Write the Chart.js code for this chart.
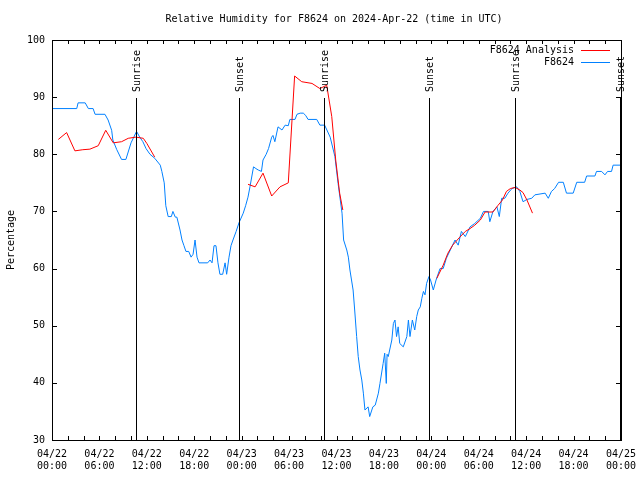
<!DOCTYPE html>
<html>
<head>
<meta charset="utf-8">
<script src="https://cdn.jsdelivr.net/npm/chart.js@4/dist/chart.umd.min.js"></script>
<style>html,body{margin:0;padding:0;background:#fff;}canvas{display:block;}</style>
</head>
<body>
<canvas id="c" width="640" height="480"></canvas>
<script>
// ---- data (x in hours since 2024-04-22 00:00 UTC) ----
const blueHours = [0,3.13,3.3,4.2,4.6,5.2,5.45,6.7,7.1,7.55,7.7,8.2,8.8,9.35,10.0,10.7,11.1,11.5,11.9,12.4,13.0,13.7,13.9,14.2,14.4,14.7,15.1,15.3,15.6,15.8,16.2,16.45,16.7,16.95,17.3,17.6,17.85,18.1,18.35,18.6,19.7,20.0,20.25,20.5,20.75,21.0,21.25,21.6,21.9,22.1,22.4,22.65,22.9,23.3,23.66,24.2,24.5,24.8,25.05,25.5,25.8,26.1,26.5,26.7,27.1,27.4,27.8,27.96,28.2,28.6,29.1,29.5,29.9,30.1,30.75,31.0,31.4,31.8,32.1,32.4,33.5,33.9,34.5,35.2,35.8,36.2,36.7,36.9,37.3,37.5,37.7,38.1,38.3,38.55,38.75,38.97,39.2,39.4,39.6,40.0,40.2,40.6,40.9,41.3,41.5,41.9,42.1,42.3,42.4,42.55,43.0,43.2,43.4,43.6,43.8,44.0,44.45,44.9,45.1,45.3,45.6,45.9,46.15,46.35,46.6,46.8,47.0,47.2,47.4,47.7,47.9,48.25,48.6,49.1,49.5,49.9,50.4,51.0,51.4,51.8,52.3,52.9,53.5,54.2,54.6,55.2,55.4,55.8,56.3,56.6,56.9,57.3,57.7,58.2,58.8,59.2,59.6,60.1,60.7,61.1,62.4,62.8,63.2,63.6,64.1,64.7,65.1,65.95,66.4,67.4,67.65,68.7,68.9,69.55,69.97,70.3,70.8,71.0,72.0];
const blueValues = [88,88,89,89,88,88,87,87,86,84.2,82.5,80.8,79.1,79.1,82,84,83,82.2,81,80,79.3,78.1,77,75,71,69.1,69.1,70,69,69,66.75,65,64,63,63,62,62.5,65,62,61,61,61.5,61,64,64,61,59,59,61,59,62,64,65,66.5,68,69.7,71,72.5,74.3,77.8,77.5,77.25,77,79,80,81,83,83.3,82.2,84.8,84.25,85.1,85,86.1,86.1,87,87.2,87.2,86.8,86.1,86.1,85.1,85.1,83,79.6,74.9,69.7,65,63.25,62,59.75,56.25,52.75,48.1,44.6,42.25,40.5,38.2,35.25,35.8,34.1,35.8,36.1,38.2,39.9,43.4,45.2,39.9,45,44.6,47.5,50.4,51,48.1,49.8,46.9,46.3,48.1,51,48.1,51,49.25,51.6,52.75,53.3,54.8,56,55.4,57.4,58.6,58,56.25,58,60,60,61.8,63.25,65,64.1,66.5,65.6,67.3,67.9,68.8,70,70,68.2,70,70.8,69.1,72.3,72.3,73.2,74,74.3,73.5,71.7,72.1,72.3,72.9,73.2,72.3,73.5,74,75.1,75.1,73.2,73.2,75.1,75.1,76.2,76.2,77,77,76.4,77,77,78.1,78.1];
const redHours = [0.8,1.85,2.9,3.9,4.8,5.85,6.8,7.75,8.8,9.65,10.6,11.55,12.0,13.0,18.0,24.8,25.7,26.7,27.8,28.85,29.9,30.7,31.6,32.9,33.9,34.76,35.4,35.9,36.4,36.8,42.0,48.7,49.5,50.1,50.7,51.6,52.3,52.9,53.5,54.2,54.8,55.8,56.4,57.0,57.5,58.0,58.6,59.2,59.6,60.1,60.8];
const redValues = [82.6,83.8,80.6,80.8,80.9,81.5,84.2,82.0,82.2,82.8,83.0,82.8,81.9,79.5,null,74.75,74.3,76.7,72.7,74.3,75.0,93.7,92.7,92.4,91.5,92.1,86.6,79,73.2,70.25,null,58.3,60.6,62.7,64.1,65.5,66.5,67,67.6,68.5,69.9,69.9,71,72,73.5,74,74.2,73.75,73.3,72,69.7];
const eventHours = [10.6,23.7,34.45,47.75,58.55,71.85];
const eventLabels = ['Sunrise','Sunset','Sunrise','Sunset','Sunrise','Sunset'];
const seriesNames = ['F8624 Analysis','F8624'];
const titleText = 'Relative Humidity for F8624 on 2024-Apr-22 (time in UTC)';
const yTitle = 'Percentage';

const FONT = "'DejaVu Sans Mono', 'Liberation Mono', monospace";
const RED = 'rgb(255,0,0)';
const BLUE = 'rgb(0,128,255)';

const toPts = (xs, ys) => xs.map((x, i) => ({x: x, y: ys[i]}));

const decor = {
  id: 'decor',
  afterDatasetsDraw(chart) {
    const ctx = chart.ctx, a = chart.chartArea, xs = chart.scales.x, ys = chart.scales.y;
    ctx.save();
    ctx.strokeStyle = '#000';
    ctx.lineWidth = 1;
    ctx.font = '10px ' + FONT;
    ctx.fillStyle = '#000';
    // title
    ctx.textAlign = 'center'; ctx.textBaseline = 'middle';
    ctx.fillText(titleText, 334, 19);
    // event lines + labels
    eventHours.forEach((h, i) => {
      const x = Math.round(xs.getPixelForValue(h)) + 0.5;
      ctx.beginPath(); ctx.moveTo(x, 98); ctx.lineTo(x, a.bottom); ctx.stroke();
      ctx.save();
      ctx.translate(x + 1, 92);
      ctx.rotate(-Math.PI / 2);
      ctx.textAlign = 'left'; ctx.textBaseline = 'middle';
      ctx.fillText(eventLabels[i], 0, 0);
      ctx.restore();
    });
    // border
    ctx.strokeRect(Math.round(a.left) + 0.5, Math.round(a.top) + 0.5, Math.round(a.right - a.left), Math.round(a.bottom - a.top));
    // x ticks every 2 h, top & bottom
    ctx.beginPath();
    for (let h = 2; h < 72; h += 2) {
      const x = Math.round(xs.getPixelForValue(h)) + 0.5;
      ctx.moveTo(x, a.bottom); ctx.lineTo(x, a.bottom - 4);
      ctx.moveTo(x, a.top); ctx.lineTo(x, a.top + 4);
    }
    for (let v = 40; v < 100; v += 10) {
      const y = Math.round(ys.getPixelForValue(v)) + 0.5;
      ctx.moveTo(a.left, y); ctx.lineTo(a.left + 5, y);
      ctx.moveTo(a.right, y); ctx.lineTo(a.right - 5, y);
    }
    ctx.stroke();
    // legend
    ctx.textAlign = 'right'; ctx.textBaseline = 'middle';
    const cols = [RED, BLUE];
    seriesNames.forEach((n, i) => {
      const y = 50 + i * 12;
      ctx.fillStyle = '#000';
      ctx.fillText(n, 574, y);
      ctx.strokeStyle = cols[i];
      ctx.beginPath(); ctx.moveTo(581, y + 0.5); ctx.lineTo(610, y + 0.5); ctx.stroke();
    });
    ctx.restore();
  }
};

new Chart(document.getElementById('c'), {
  type: 'line',
  data: {
    datasets: [
      {label: seriesNames[0], data: toPts(redHours, redValues), borderColor: RED, borderWidth: 1, pointRadius: 0, tension: 0, spanGaps: false, order: 0},
      {label: seriesNames[1], data: toPts(blueHours, blueValues), borderColor: BLUE, borderWidth: 1, pointRadius: 0, tension: 0, order: 1}
    ]
  },
  options: {
    responsive: false,
    animation: false,
    layout: {padding: {left: 0, right: 19, top: 40, bottom: 0}},
    plugins: {
      legend: {display: false},
      tooltip: {enabled: false},
      title: {display: false}
    },
    scales: {
      x: {
        type: 'linear', min: 0, max: 72,
        grid: {display: false, drawTicks: false},
        border: {display: false},
        ticks: {
          stepSize: 6, autoSkip: false, maxRotation: 0, padding: 8, color: '#000',
          font: {family: FONT, size: 10, lineHeight: 1.2},
          callback: (v) => {
            const d = 22 + Math.floor(v / 24), hh = v % 24;
            return ['04/' + d, String(hh).padStart(2, '0') + ':00'];
          }
        },
        afterFit: (s) => { s.height = 40; s.paddingLeft = 0; s.paddingRight = 0; }
      },
      y: {
        min: 30, max: 100,
        grid: {display: false, drawTicks: false},
        border: {display: false},
        ticks: {stepSize: 10, padding: 7, color: '#000', font: {family: FONT, size: 10}},
        title: {display: true, text: yTitle, color: '#000', font: {family: FONT, size: 10}, padding: {top: 5, bottom: 0}},
        afterFit: (s) => { s.width = 52; s.paddingTop = 0; s.paddingBottom = 0; }
      }
    }
  },
  plugins: [decor]
});
</script>
</body>
</html>
